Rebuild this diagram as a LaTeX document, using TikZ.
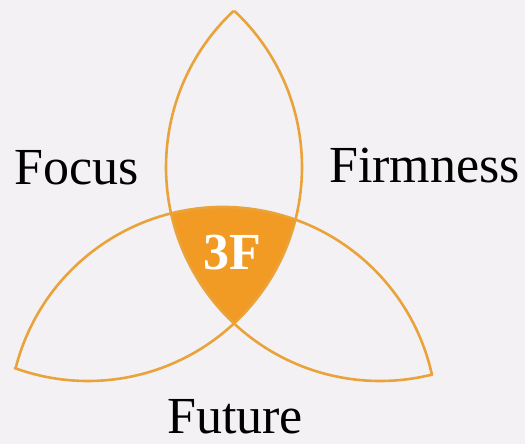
\documentclass[tikz,border=0pt]{standalone}
\usepackage{fontspec}
\setmainfont{Liberation Serif}
\usetikzlibrary{positioning}
\definecolor{paper}{RGB}{243,241,243}
\definecolor{petal}{RGB}{233,163,58}
\definecolor{core}{RGB}{242,155,36}

\begin{document}
\begin{tikzpicture}[x=1pt,y=1pt,line width=2.6pt,line cap=round]
	\tikzstyle{petal line}=[draw=petal]
	\tikzstyle{word}=[font=\fontsize{52}{52}\selectfont,text=black,inner sep=0pt,anchor=base west]

	\fill[paper] (0,0) rectangle (525,444);
	\useasboundingbox (0,0) rectangle (525,444);

	\coordinate (cA) at (380,277);
	\coordinate (cB) at (88,277);
	\coordinate (cC) at (223,23);

	% common part of the three circles
	\begin{scope}
		\clip (cA) circle (214pt);
		\clip (cB) circle (214pt);
		\fill[core] (cC) circle (214pt);
	\end{scope}

	\draw[petal line] ([shift={(133.3:214pt)}]cA) arc[start angle=133.3,end angle=284,radius=214pt];
	\draw[petal line] ([shift={(46.7:214pt)}]cB) arc[start angle=46.7,end angle=-110,radius=214pt];
	\draw[petal line] ([shift={(165.7:214pt)}]cC) arc[start angle=165.7,end angle=12.4,radius=214pt];

	\node[word] (focus)  at (13,259)  {Focus};
	\node[word] (firm)   at (328,261) {Firmness};
	\node[word,anchor=base] (future) at (235,10) {Future};
	\node[font=\fontsize{52}{52}\selectfont\bfseries,text=white,inner sep=0pt,anchor=base] (three) at (232,174) {3F};
\end{tikzpicture}
\end{document}
